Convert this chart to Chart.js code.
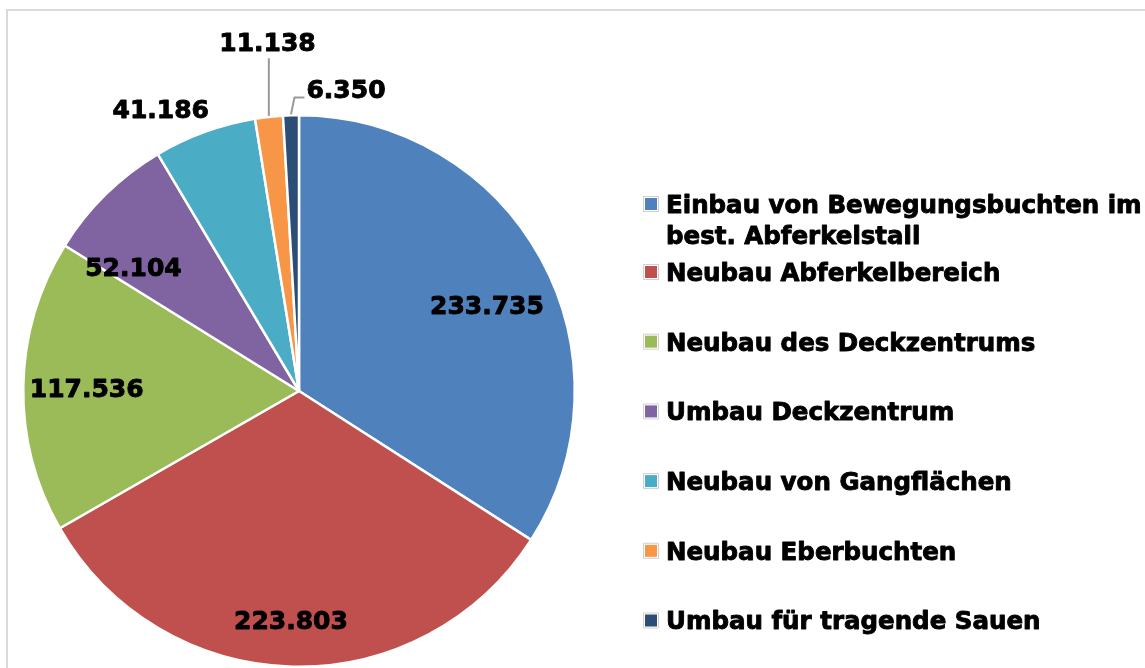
<!DOCTYPE html>
<html>
<head>
<meta charset="utf-8">
<script src="https://cdn.jsdelivr.net/npm/chart.js@4"></script>
<style>
  html, body { margin: 0; padding: 0; background: #fff; }
  canvas { display: block; }
</style>
</head>
<body>
<canvas id="pieChart" width="1145" height="668"></canvas>
<script>
const categories = [
  ['Einbau von Bewegungsbuchten im', 'best. Abferkelstall'],
  'Neubau Abferkelbereich',
  'Neubau des Deckzentrums',
  'Umbau Deckzentrum',
  'Neubau von Gangflächen',
  'Neubau Eberbuchten',
  'Umbau für tragende Sauen',
];
const values = [233735, 223803, 117536, 52104, 41186, 11138, 6350];
const colors = ['#4F81BD', '#C0504D', '#9BBB59', '#8064A2', '#4BACC6', '#F79646', '#2C4D75'];

// label placement: fraction of radius and angular shift (deg) from the slice middle
const labelRadius = [0.75, 0.83, 0.77, 0.75, 1.14, 1.27, 1.11];
const labelShift = [4, 0.6, -0.3, -8.7, -6.1, 1.1, 10.5];
const leaderType = [null, null, null, null, null, 'up', 'elbow'];

const FONT = "'DejaVu Sans', Verdana, sans-serif";
const numberFormat = new Intl.NumberFormat('de-DE');

function heavyText(c, text, x, y) {
  c.strokeStyle = '#000';
  c.lineWidth = 0.9;
  c.lineJoin = 'round';
  c.strokeText(text, x, y);
  c.fillText(text, x, y);
}

const framePlugin = {
  id: 'frame',
  beforeDraw(chart) {
    const c = chart.ctx;
    c.save();
    c.strokeStyle = '#d9d9d9';
    c.lineWidth = 2;
    c.strokeRect(7, 10, chart.width + 10, chart.height + 10);
    c.restore();
  },
};

const valueLabelPlugin = {
  id: 'valueLabels',
  afterDatasetsDraw(chart) {
    const c = chart.ctx;
    const size = 25;
    c.save();
    c.font = `bold ${size}px ${FONT}`;
    c.textAlign = 'center';
    c.textBaseline = 'alphabetic';
    chart.getDatasetMeta(0).data.forEach((arc, i) => {
      const { x, y, startAngle, endAngle, outerRadius } = arc.getProps(['x', 'y', 'startAngle', 'endAngle', 'outerRadius'], true);
      const mid = (startAngle + endAngle) / 2;
      const ang = mid + (labelShift[i] * Math.PI) / 180;
      const lx = x + Math.cos(ang) * outerRadius * labelRadius[i];
      const ly = y + Math.sin(ang) * outerRadius * labelRadius[i];
      const text = numberFormat.format(values[i]);
      const w = c.measureText(text).width;

      if (leaderType[i]) {
        const ex = x + Math.cos(mid) * (outerRadius + 1);
        const ey = y + Math.sin(mid) * (outerRadius + 1);
        c.strokeStyle = '#999999';
        c.lineWidth = 2;
        c.beginPath();
        c.moveTo(ex, ey);
        if (leaderType[i] === 'up') {
          c.lineTo(ex, ly + 16);
        } else {
          const left = lx - w / 2;
          c.lineTo(left - 12, ly + 9);
          c.lineTo(left - 2, ly + 9);
        }
        c.stroke();
      }

      c.fillStyle = '#000';
      heavyText(c, text, lx, ly + size * 0.3645);
    });
    c.restore();
  },
};

const legendPlugin = {
  id: 'sideLegend',
  afterDraw(chart) {
    const c = chart.ctx;
    const size = 24.5;
    const left = 643;
    const firstRow = 204;
    const rowGap = 69.7;
    const lineGap = 31;
    c.save();
    c.font = `bold ${size}px ${FONT}`;
    c.textAlign = 'left';
    c.textBaseline = 'alphabetic';
    let rowY = firstRow;
    categories.forEach((label, i) => {
      const lines = Array.isArray(label) ? label : [label];
      c.fillStyle = '#ffffff';
      c.fillRect(left, rowY - 8, 16, 16);
      c.strokeStyle = '#d0d0d0';
      c.lineWidth = 1;
      c.strokeRect(left + 0.5, rowY - 7.5, 15, 15);
      c.fillStyle = colors[i];
      c.fillRect(left + 2, rowY - 6, 12, 12);
      c.fillStyle = '#000';
      lines.forEach((line, j) => {
        heavyText(c, line, left + 23, rowY + j * lineGap + size * 0.3645);
      });
      rowY = i === 0 ? 272 : rowY + rowGap;
    });
    c.restore();
  },
};

new Chart(document.getElementById('pieChart'), {
  type: 'pie',
  data: {
    labels: categories,
    datasets: [{
      data: values,
      backgroundColor: colors,
      borderColor: '#ffffff',
      borderWidth: 2.5,
    }],
  },
  options: {
    responsive: false,
    animation: false,
    layout: { padding: { left: 22, top: 114, right: 569, bottom: 0 } },
    plugins: {
      legend: { display: false },
      tooltip: { enabled: false },
    },
  },
  plugins: [framePlugin, valueLabelPlugin, legendPlugin],
});
</script>
</body>
</html>
